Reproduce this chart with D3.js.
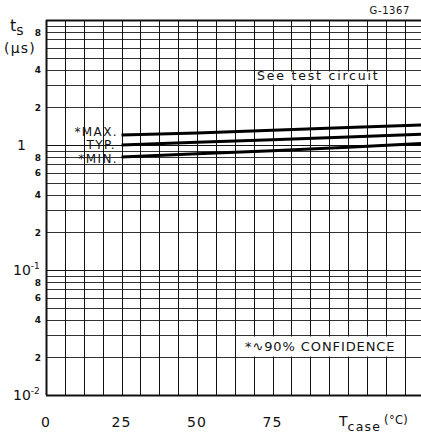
<!DOCTYPE html>
<html><head><meta charset="utf-8">
<script src="https://cdn.jsdelivr.net/npm/d3@7"></script>
<style>
html,body{margin:0;padding:0;background:#fff;}
svg{display:block;}
text{font-family:"DejaVu Sans",sans-serif;fill:#111;}
</style></head>
<body><div id="chart"></div>
<script>
// ---- data ----
const temps = [25, 50, 75, 100, 125];
const tsMax = [1.2, 1.25, 1.31, 1.38, 1.45];
const tsTyp = [1.0, 1.05, 1.1, 1.16, 1.22];
const tsMin = [0.8, 0.85, 0.9, 0.96, 1.03];
const seriesNames = ["*MAX.", "TYP.", "*MIN."];
const xTickValues = [0, 25, 50, 75];
const yMajorValues = [0.01, 0.1, 1];
const yMajorBase = ["10", "10", "1"];
const yMajorExp = ["-2", "-1", ""];
const yMinorValues = [0.02, 0.04, 0.06, 0.08, 0.2, 0.4, 0.6, 0.8, 2, 4, 8];
const yMinorText = ["2", "4", "6", "8", "2", "4", "6", "8", "2", "4", "8"];
const xGridStep = 6.25;
const figId = "G-1367";

const W = 421, H = 435;
const svg = d3.select("#chart").append("svg").attr("width", W).attr("height", H);

const x = d3.scaleLinear().domain([0, 125]).range([46, 423.5]);
const y = d3.scaleLog().domain([0.01, 10]).range([395, 20]);

// horizontal grid
const hVals = [];
[0.01, 0.1, 1].forEach(d => { for (let m = 1; m <= 9; m++) hVals.push(d * m); });
hVals.push(10);
const grid = svg.append("g");
grid.selectAll("line.h").data(hVals).enter().append("line")
  .attr("x1", x(0)).attr("x2", W)
  .attr("y1", d => Math.round(y(d)) + 0.5).attr("y2", d => Math.round(y(d)) + 0.5)
  .attr("stroke", d => (Math.abs(Math.log10(d) - Math.round(Math.log10(d))) < 1e-9) ? "#111" : "#333")
  .attr("stroke-width", d => (d === 10 || d === 0.01) ? 2 : 1);

// vertical grid
const vVals = d3.range(0, 125.01, xGridStep);
grid.selectAll("line.v").data(vVals).enter().append("line")
  .attr("x1", d => Math.round(x(d)) + 0.5).attr("x2", d => Math.round(x(d)) + 0.5)
  .attr("y1", y(10)).attr("y2", y(0.01))
  .attr("stroke", "#111")
  .attr("stroke-width", d => d === 0 ? 2 : 1);

// white label boxes (cover grid)
function box(x0, x1, y0, y1) {
  svg.append("rect").attr("x", x0).attr("y", y0).attr("width", x1 - x0).attr("height", y1 - y0).attr("fill", "#fff");
}
box(x(6.25) + 1.5, x(25) - 0.5, Math.round(y(2)) + 1.5, Math.round(y(6)) - 0.5);
box(x(68.75) + 1.5, 379, Math.round(y(4)) + 1.5, Math.round(y(3)) - 0.5);
box(x(62.5) + 1.5, x(118.75) - 0.5, Math.round(y(0.03)) + 1.5, Math.round(y(0.02)) - 0.5);

// curves
const line = d3.line().x(d => x(d[0])).y(d => y(d[1]));
[tsMax, tsTyp, tsMin].forEach(s => {
  svg.append("path").datum(temps.map((t, i) => [t, s[i]]))
    .attr("d", line).attr("fill", "none").attr("stroke", "#000").attr("stroke-width", 3);
});

// series labels
const lab = svg.append("g").attr("font-size", 12).attr("letter-spacing", 1.4).attr("text-anchor", "end");
lab.append("text").attr("x", 118).attr("y", 135.5).text(seriesNames[0]);
lab.append("text").attr("x", 116).attr("y", 149).text(seriesNames[1]);
lab.append("text").attr("x", 118).attr("y", 162.5).text(seriesNames[2]);

// annotations
svg.append("text").attr("x", 257).attr("y", 80).attr("font-size", 12.5).attr("letter-spacing", 1.8).text("See test circuit");
svg.append("text").attr("x", 245).attr("y", 351).attr("font-size", 13).attr("letter-spacing", 0.9).text("*\u223F90% CONFIDENCE");
svg.append("text").attr("x", 410).attr("y", 14).attr("font-size", 10).attr("letter-spacing", 0.6).attr("text-anchor", "end").text(figId);

// y axis labels
const yl = svg.append("g");
yl.selectAll("text.minor").data(yMinorValues).enter().append("text")
  .attr("x", 41).attr("y", d => y(d) + 3.5).attr("text-anchor", "end")
  .attr("font-size", 9).attr("font-weight", "bold")
  .text((d, i) => yMinorText[i]);
yMajorValues.forEach((v, i) => {
  const t = yl.append("text").attr("y", y(v) + 5).attr("font-size", 14);
  if (yMajorExp[i]) {
    t.attr("x", 13);
    t.append("tspan").text(yMajorBase[i]);
    t.append("tspan").attr("dy", -6).attr("font-size", 9).text(yMajorExp[i]);
  } else {
    t.attr("x", 17).text(yMajorBase[i]);
  }
});

// y title
const yt = svg.append("text").attr("x", 10).attr("y", 31).attr("font-size", 16);
yt.append("tspan").text("t");
yt.append("tspan").attr("dy", 4).attr("font-size", 14).text("s");
svg.append("text").attr("x", 4).attr("y", 53).attr("font-size", 14).attr("letter-spacing", 1.2).text("(\u03BCs)");

// x axis labels
svg.append("g").selectAll("text").data(xTickValues).enter().append("text")
  .attr("x", d => x(d)).attr("y", 427).attr("text-anchor", "middle")
  .attr("font-size", 14).attr("letter-spacing", 1).text(d => d);
const xt = svg.append("text").attr("x", 339).attr("y", 426).attr("font-size", 14);
xt.append("tspan").text("T");
xt.append("tspan").attr("dy", 5).attr("font-size", 12.5).attr("letter-spacing", 1.2).text("case");
xt.append("tspan").attr("dy", -7).attr("dx", 3).attr("font-size", 11.5).attr("letter-spacing", 0.3).text("(\u00B0C)");
</script></body></html>
